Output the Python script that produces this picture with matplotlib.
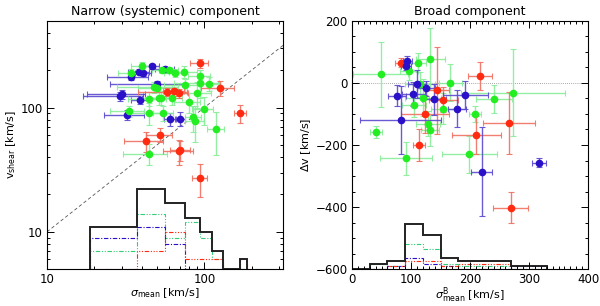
import numpy as np
import matplotlib
matplotlib.use('Agg')
import matplotlib.pyplot as plt
from matplotlib.ticker import MultipleLocator, LogLocator, NullFormatter, FixedLocator

# ---- narrow component (left): sigma_mean, v_shear, errors
nb_x = [34.1, 38.7, 41.0, 46.4, 50.0, 29.9, 28.9, 39.1, 32.2, 60.7, 70.3, 56.5]
nb_y = [175, 195, 188, 214, 154, 128, 123, 115, 87, 80.5, 81.5, 204]
nb_xe = [10, 6, 5, 5, 25, 12, 12, 5, 9, 5, 5, 8]
nb_ye = [8, 10, 8, 10, 10, 10, 10, 8, 8, 10, 10, 8]

ng_x = [40.1, 34.3, 33.3, 44.2, 44.8, 51.4, 48.0, 74.8, 93.3, 94.3, 107, 90, 75.7,
        65.3, 59.8, 54.2, 50.0, 53.0, 62.2, 79.4, 99.1, 55.0, 87.7, 85.1, 119, 44.2]
ng_y = [216, 191, 93.3, 90, 118, 119, 147, 194, 180, 159, 155, 130, 151,
        191, 201, 200, 145, 120, 120, 110, 96.9, 90, 78, 83.4, 66.8, 42.5]
ng_xe = [6, 6, 8, 10, 12, 12, 20, 15, 15, 30, 15, 20, 20,
         10, 8, 8, 12, 10, 10, 15, 15, 8, 12, 10, 15, 14]
ng_ye = [15, 12, 10, 18, 15, 15, 15, 20, 20, 40, 20, 30, 20,
         15, 10, 10, 12, 15, 15, 20, 25, 12, 25, 20, 25, 8]

nr_x = [93.3, 125, 57.8, 64.4, 69.3, 169, 52.5, 42.7, 69.3, 70.5, 93.3]
nr_y = [228, 144, 134, 135, 130, 90, 60.5, 53.8, 44.7, 45.5, 26.9]
nr_xe = [12, 30, 20, 10, 10, 15, 10, 12, 15, 10, 10]
nr_ye = [20, 20, 10, 10, 10, 15, 8, 10, 10, 8, 8]

# histogram of sigma_mean (bins of 18.75 km/s starting at 18.75)
n_edges = [18.75 * i for i in range(1, 11)]
n_tot = [6, 17, 12, 8, 5, 2, 0, 0, 1]
n_green = [2, 9, 4, 7, 4, 1, 0, 0, 0]
n_blue = [4, 6, 3, 0, 0, 0, 0, 0, 0]
n_red = [0, 2, 5, 1, 1, 1, 0, 0, 1]

# ---- broad component (right): sigma_mean^B, delta v, errors
bb_x = [93.7, 91.5, 76.8, 104, 110.7, 125.4, 139, 178.5, 192, 82.5, 219.8, 317]
bb_y = [70, 55, -41, -36, -4, -17.5, -53, -83, -40, -119.5, -286, -257]
bb_xe = [8, 8, 15, 20, 15, 15, 20, 15, 38, 69, 18, 12]
bb_ye = [15, 15, 35, 40, 45, 25, 50, 60, 45, 110, 143, 15]

bg_x = [48.6, 40, 91.5, 96.6, 111, 133, 166.7, 154, 129, 132, 208.5, 199, 241, 273, 115, 120, 105]
bg_y = [27.5, -159, -243, 38, 65, 77, 0.5, -84, -132, -152, -100, -230, -52, -32, -5, -48, -70]
bg_xe = [47, 10, 44, 15, 15, 25, 20, 20, 20, 15, 10, 46, 30, 88, 25, 30, 20]
bg_ye = [104, 20, 54, 30, 30, 100, 60, 50, 40, 50, 25, 60, 45, 140, 40, 60, 40]

br_x = [83, 144, 154.8, 123.7, 113.5, 211, 266.7, 269, 217]
br_y = [65, -24, -55, -100, -200, -168, -130, -402, 23]
br_xe = [10, 20, 25, 40, 10, 42, 44, 30, 20]
br_ye = [15, 140, 40, 60, 50, 60, 100, 50, 45]

b_edges = [30 * i for i in range(12)]
b_tot = [0, 2, 3, 16, 12, 4, 3, 3, 3, 1, 1]
b_green = [0, 2, 1, 9, 7, 2, 1, 1, 1, 0, 0]
b_blue = [0, 0, 1, 4, 2, 1, 0, 0, 0, 1, 1]
b_red = [0, 0, 1, 3, 3, 1, 2, 2, 2, 0, 0]

RED = '#ff2a10'
GREEN = '#22ee22'
BLUE = '#2a10c8'
RED_E = '#f07060'
GREEN_E = '#88ee99'
BLUE_E = '#5a48d0'

plt.rcParams['font.family'] = 'DejaVu Sans'
plt.rcParams['font.size'] = 8.5

fig = plt.figure(figsize=(6, 3.06), dpi=100)
ax1 = fig.add_axes([0.0783, 0.120, 0.3933, 0.8124])
ax2 = fig.add_axes([0.5867, 0.120, 0.3933, 0.8124])


def pts(ax, x, y, xe, ye, c, ce):
    ax.errorbar(x, y, xerr=xe, yerr=ye, fmt='none', ecolor=ce, elinewidth=1.0,
                capsize=2, capthick=0.8, alpha=0.9, zorder=2)
    ax.plot(x, y, 'o', color=c, ms=4.5, mec=c, zorder=3)


# left panel
ax1.set_xscale('log')
ax1.set_yscale('log')
ax1.set_xlim(10, 316)
ax1.set_ylim(5, 500)
ax1.plot([10, 316], [10, 316], ls=(0, (4, 3)), color='#555555', lw=0.6, zorder=1)
pts(ax1, nb_x, nb_y, nb_xe, nb_ye, BLUE, BLUE_E)
pts(ax1, ng_x, ng_y, ng_xe, ng_ye, GREEN, GREEN_E)
pts(ax1, nr_x, nr_y, nr_xe, nr_ye, RED, RED_E)

base = 5
ax1.stairs(base + np.array(n_green), n_edges, baseline=base, color='#33cc77', lw=0.8, ls=(0, (4, 1.5, 1, 1.5, 1, 1.5)))
ax1.stairs(base + np.array(n_blue), n_edges, baseline=base, color=BLUE, lw=0.8, ls=(0, (4, 1.5, 1, 1.5)))
ax1.stairs(base + np.array(n_red), n_edges, baseline=base, color=RED, lw=0.8, ls=(0, (4, 1.5, 1, 1.5, 1, 1.5, 1, 1.5)))
ax1.stairs(base + np.array(n_tot), n_edges, baseline=base, color='#222222', lw=1.4)

ax1.set_title('Narrow (systemic) component', fontsize=9, pad=4)
ax1.set_xlabel(r'$\sigma_{\rm mean}$ [km/s]', labelpad=0, fontsize=8)
ax1.set_ylabel(r'v$_{\rm shear}$ [km/s]', labelpad=2, fontsize=8)
ax1.xaxis.set_major_locator(FixedLocator([10, 100]))
ax1.xaxis.set_minor_locator(LogLocator(base=10, subs=np.arange(2, 10)))
ax1.xaxis.set_minor_formatter(NullFormatter())
ax1.yaxis.set_major_locator(FixedLocator([10, 100]))
ax1.yaxis.set_minor_locator(LogLocator(base=10, subs=np.arange(2, 10)))
ax1.yaxis.set_minor_formatter(NullFormatter())
ax1.set_xticklabels(['10', '100'])
ax1.set_yticklabels(['10', '100'])

# right panel
ax2.set_xlim(0, 400)
ax2.set_ylim(-600, 200)
ax2.axhline(0, color='#888888', lw=0.6, ls=(0, (1, 1.5)), zorder=1)
pts(ax2, bg_x, bg_y, bg_xe, bg_ye, GREEN, GREEN_E)
pts(ax2, br_x, br_y, br_xe, br_ye, RED, RED_E)
pts(ax2, bb_x, bb_y, bb_xe, bb_ye, BLUE, BLUE_E)

scale = 9.2
bb0 = -600
ax2.stairs(bb0 + scale * np.array(b_green), b_edges, baseline=bb0, color='#33cc77', lw=0.8, ls=(0, (4, 1.5, 1, 1.5, 1, 1.5)))
ax2.stairs(bb0 + scale * np.array(b_blue), b_edges, baseline=bb0, color=BLUE, lw=0.8, ls=(0, (4, 1.5, 1, 1.5)))
ax2.stairs(bb0 + scale * np.array(b_red), b_edges, baseline=bb0, color=RED, lw=0.8, ls=(0, (4, 1.5, 1, 1.5, 1, 1.5, 1, 1.5)))
ax2.stairs(bb0 + scale * np.array(b_tot), b_edges, baseline=bb0, color='#222222', lw=1.4)

ax2.set_title('Broad component', fontsize=9, pad=4)
ax2.set_xlabel(r'$\sigma^{\rm B}_{\rm mean}$ [km/s]', labelpad=-1, fontsize=8)
ax2.set_ylabel(r'$\Delta$v [km/s]', labelpad=2, fontsize=8)
ax2.xaxis.set_major_locator(MultipleLocator(100))
ax2.xaxis.set_minor_locator(MultipleLocator(10))
ax2.yaxis.set_major_locator(MultipleLocator(200))
ax2.yaxis.set_minor_locator(MultipleLocator(50))

for ax in (ax1, ax2):
    ax.tick_params(which='both', direction='in', top=True, right=True, width=0.7)
    ax.tick_params(which='major', length=5, pad=3)
    ax.tick_params(which='minor', length=2.5)
    for s in ax.spines.values():
        s.set_linewidth(0.8)

plt.savefig('out.png', dpi=100)
